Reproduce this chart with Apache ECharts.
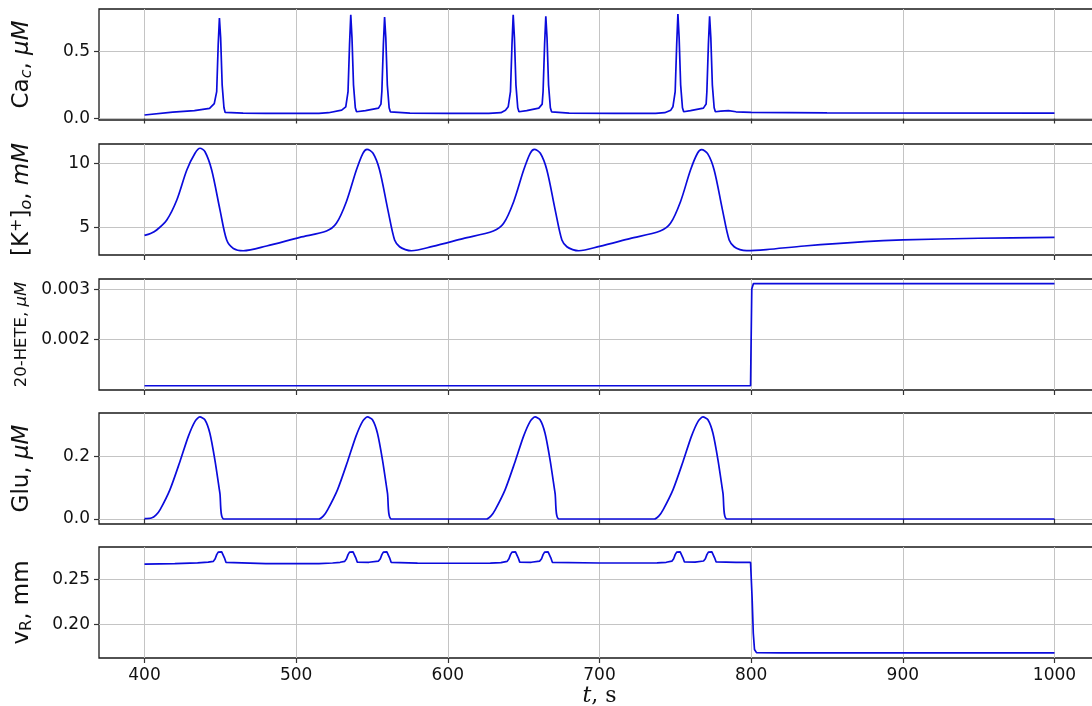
<!DOCTYPE html>
<html><head><meta charset="utf-8">
<script src="https://cdn.jsdelivr.net/npm/echarts@6/dist/echarts.min.js"></script>
<style>html,body{margin:0;padding:0;background:#fff}#c{width:1092px;height:706px}</style>
</head><body><div id="c"></div>
<script>
// ---- data ----
const xTicks = [400, 500, 600, 700, 800, 900, 1000];

const caTicks = [0, 0.5];
const kTicks = [5, 10];
const heteTicks = [0.002, 0.003];
const gluTicks = [0, 0.2];
const vrTicks = [0.2, 0.25];

// Ca_c (uM)
const caT = [400, 418.6, 432.9, 442.9, 446, 447.6, 448.6, 449.4, 450.2, 451.2, 452.4, 453.2, 465, 480, 515,
  521.4, 530, 532.7, 534.2, 535.2, 536, 536.8, 537.8, 539, 539.8,
  545.7, 554.3, 555.9, 556.5, 557.5, 558.3, 559.1, 560.1, 561.3, 562.1, 575, 600, 627,
  635, 638, 639.8, 641.3, 642.3, 643.1, 643.9, 644.9, 646.1, 646.9,
  652, 660, 662.2, 662.8, 663.8, 664.6, 665.4, 666.4, 667.6, 668.4, 680, 710, 737,
  743, 747, 748.4, 749.9, 750.9, 751.7, 752.5, 753.5, 754.7, 755.5,
  760, 768.5, 770.3, 770.8, 771.8, 772.6, 773.4, 774.4, 775.6, 776.4, 780, 785, 790, 800, 850, 1000];
const caV = [0.026, 0.048, 0.058, 0.075, 0.11, 0.2, 0.55, 0.746, 0.6, 0.25, 0.08, 0.045, 0.04, 0.038, 0.038,
  0.043, 0.062, 0.087, 0.2, 0.55, 0.77, 0.6, 0.25, 0.08, 0.05,
  0.058, 0.077, 0.107, 0.2, 0.55, 0.753, 0.6, 0.25, 0.08, 0.05, 0.04, 0.038, 0.038,
  0.043, 0.062, 0.087, 0.2, 0.55, 0.77, 0.6, 0.25, 0.08, 0.05,
  0.058, 0.077, 0.107, 0.2, 0.55, 0.758, 0.6, 0.25, 0.08, 0.05, 0.04, 0.038, 0.038,
  0.043, 0.062, 0.087, 0.2, 0.55, 0.775, 0.6, 0.25, 0.08, 0.05,
  0.058, 0.077, 0.107, 0.2, 0.55, 0.758, 0.6, 0.25, 0.08, 0.05, 0.055, 0.058, 0.05, 0.045, 0.042, 0.04];

// [K+]o (mM)
const kT = [400, 404, 408, 414.7, 421.3, 427.9, 433.3, 436.6, 439.9, 444.3, 449.8, 454.2, 458.6, 465.1, 480.5, 502.4, 520,
  526.5, 533.1, 539.7, 544, 546.7, 550.7, 555, 560.5, 564.9, 568.2, 572, 576, 590, 610, 630,
  636.8, 643.4, 650, 654.3, 657, 661, 665.3, 670.8, 675.2, 678.5, 682.3, 686.3, 700, 720, 740,
  746.8, 753.4, 760, 764.6, 767.3, 771.3, 775.6, 781.1, 785.5, 788.8, 792.6, 797, 810, 835, 875, 900, 950, 1000];
const kV = [4.40, 4.55, 4.82, 5.60, 7.15, 9.48, 10.78, 11.17, 10.90, 9.48, 6.37, 4.04, 3.39, 3.21, 3.58, 4.25, 4.74,
  5.34, 7.02, 9.48, 10.78, 11.09, 10.78, 9.48, 6.37, 4.04, 3.52, 3.30, 3.21, 3.55, 4.15, 4.74,
  5.34, 7.02, 9.48, 10.78, 11.09, 10.78, 9.48, 6.37, 4.04, 3.52, 3.30, 3.21, 3.55, 4.15, 4.74,
  5.34, 7.02, 9.48, 10.78, 11.06, 10.75, 9.48, 6.37, 4.04, 3.52, 3.30, 3.22, 3.30, 3.58, 3.92, 4.05, 4.18, 4.25];

// 20-HETE (uM)
const heteT = [400, 600, 799.6, 800.4, 801.5, 1000];
const heteV = [0.00109, 0.00109, 0.00109, 0.00300, 0.00311, 0.00311];

// Glu (uM)
const gluT = [400, 404.5, 407.5, 410.3, 416.8, 423.4, 428.9, 433.3, 436.5, 439.8, 443.1, 446.4, 449.7, 452.3,
  515, 518, 520.8, 527.3, 533.9, 539.4, 543.8, 547, 550.3, 553.6, 556.9, 560.2, 562.8,
  625.5, 628.5, 631.3, 637.8, 644.4, 649.9, 654.3, 657.5, 660.8, 664.1, 667.4, 670.7, 673.3,
  736.2, 739.2, 742, 748.5, 755.1, 760.6, 765, 768.2, 771.5, 774.8, 778.1, 781.4, 784, 1000];
const gluV = [0.001, 0.003, 0.012, 0.03, 0.094, 0.184, 0.264, 0.312, 0.326, 0.317, 0.274, 0.189, 0.083, 0.0,
  0.0, 0.010, 0.03, 0.094, 0.184, 0.264, 0.312, 0.326, 0.317, 0.274, 0.189, 0.083, 0.0,
  0.0, 0.010, 0.03, 0.094, 0.184, 0.264, 0.312, 0.326, 0.317, 0.274, 0.189, 0.083, 0.0,
  0.0, 0.010, 0.03, 0.094, 0.184, 0.264, 0.312, 0.326, 0.317, 0.274, 0.189, 0.083, 0.0, 0.0];

// v_R (mm)
const vrT = [400, 420, 435, 442, 445.4, 446.6, 447.6, 448.6, 450.9, 451.9, 452.7, 453.7, 454.9, 480, 515, 524, 529,
  532.0, 533.2, 534.2, 535.2, 537.5, 538.5, 539.3, 540.3, 541.5, 548,
  554.3, 555.5, 556.5, 557.5, 559.8, 560.8, 561.6, 562.6, 563.8, 580, 600, 628, 635,
  639.1, 640.3, 641.3, 642.3, 644.6, 645.6, 646.4, 647.4, 648.6, 655,
  660.6, 661.8, 662.8, 663.8, 666.1, 667.1, 667.9, 668.9, 670.1, 700, 738, 744,
  747.7, 748.9, 749.9, 750.9, 753.2, 754.2, 755.0, 756.0, 757.2, 763,
  768.6, 769.8, 770.8, 771.8, 774.1, 775.1, 775.9, 776.9, 778.1, 790, 799.6, 800.6, 801.4, 802.2, 803.5, 820, 1000];
const vrV = [0.2670, 0.2674, 0.2683, 0.2692, 0.2700, 0.2730, 0.2775, 0.2803, 0.2805, 0.2790, 0.2740, 0.2690, 0.2678, 0.2675, 0.2675, 0.2682, 0.2690,
  0.2700, 0.2730, 0.2775, 0.2803, 0.2805, 0.2790, 0.2740, 0.2692, 0.2686, 0.2690,
  0.2703, 0.2730, 0.2775, 0.2803, 0.2805, 0.2790, 0.2740, 0.2690, 0.2683, 0.2680, 0.2679, 0.2680, 0.2686,
  0.2700, 0.2730, 0.2775, 0.2803, 0.2805, 0.2790, 0.2740, 0.2692, 0.2686, 0.2690,
  0.2703, 0.2730, 0.2775, 0.2803, 0.2805, 0.2790, 0.2740, 0.2690, 0.2684, 0.2682, 0.2683, 0.2690,
  0.2702, 0.2730, 0.2775, 0.2803, 0.2805, 0.2790, 0.2740, 0.2694, 0.2688, 0.2692,
  0.2704, 0.2730, 0.2775, 0.2803, 0.2805, 0.2790, 0.2740, 0.2694, 0.2689, 0.2688, 0.2688, 0.2300, 0.1900, 0.1720, 0.1685, 0.1682, 0.1682];

// ---- chart ----
const FONT = 'DejaVu Sans';
const LINE = '#0b0bdc';
const zip = (t, v) => t.map((x, i) => [x, v[i]]);
const tops = [9, 144, 279, 413, 547];
const H = 111;

const baseRich = {
  r: {fontFamily: FONT, fontSize: 23, lineHeight: 26, color: '#111'},
  i: {fontFamily: FONT, fontSize: 23, lineHeight: 26, fontStyle: 'italic', color: '#111'},
  sub: {fontFamily: FONT, fontSize: 16, lineHeight: 12, verticalAlign: 'bottom', fontStyle: 'italic', color: '#111'},
  subr: {fontFamily: FONT, fontSize: 16, lineHeight: 12, verticalAlign: 'bottom', color: '#111'},
  sup: {fontFamily: FONT, fontSize: 16, lineHeight: 14, verticalAlign: 'top', color: '#111'},
  rs: {fontFamily: FONT, fontSize: 16.5, lineHeight: 26, color: '#111'},
  is: {fontFamily: FONT, fontSize: 16.5, lineHeight: 26, fontStyle: 'italic', color: '#111'}
};

const panels = [
  {t: caT, v: caV, min: -0.011, max: 0.8125, step: 0.5, ticks: caTicks, dec: 1, name: '{r|Ca}{sub|c}{r|, }{i|μM}', smooth: false},
  {t: kT, v: kV, min: 2.88, max: 11.5, step: 5, ticks: kTicks, dec: 0, name: '{r|[K}{sup|+}{r|]}{sub|o}{r|, }{i|mM}', smooth: 0.3},
  {t: heteT, v: heteV, min: 0.001006, max: 0.0032, step: 0.001, ticks: heteTicks, dec: 3, name: '{rs|20-HETE, }{is|μM}', smooth: false},
  {t: gluT, v: gluV, min: -0.016, max: 0.3387, step: 0.2, ticks: gluTicks, dec: 1, name: '{r|Glu, }{i|μM}', smooth: 0.25},
  {t: vrT, v: vrV, min: 0.1625, max: 0.286, step: 0.05, ticks: vrTicks, dec: 2, name: '{r|v}{subr|R}{r|, mm}', smooth: false}
];

const option = {
  animation: false,
  backgroundColor: '#fff',
  grid: panels.map((p, i) => ({
    left: 99, width: 1001, top: tops[i], height: H, show: true,
    outerBoundsMode: 'none', containLabel: false,
    borderColor: '#1a1a1a', borderWidth: 1.3, backgroundColor: 'transparent'
  })),
  xAxis: panels.map((p, i) => ({
    gridIndex: i, type: 'value', min: 370, max: 1030, minInterval: 100, maxInterval: 100,
    axisLine: {show: false},
    axisTick: {show: true, customValues: xTicks, length: 5, lineStyle: {color: '#333', width: 1.2}},
    axisLabel: {show: i === 4, customValues: xTicks, margin: 9, fontFamily: FONT, fontSize: 17, color: '#111',
      formatter: v => String(v)},
    splitLine: {show: true, lineStyle: {color: '#c4c4c4', width: 1}},
    name: i === 4 ? '{it|t}{n|, s}' : '',
    nameLocation: 'middle', nameGap: 20,
    nameTextStyle: {rich: {
      it: {fontFamily: 'DejaVu Serif', fontStyle: 'italic', fontSize: 22, color: '#111'},
      n: {fontFamily: 'DejaVu Serif', fontSize: 22, color: '#111'}
    }}
  })),
  yAxis: panels.map((p, i) => ({
    gridIndex: i, type: 'value', min: p.min, max: p.max, minInterval: p.step, maxInterval: p.step,
    axisLine: {show: false},
    axisTick: {show: true, customValues: p.ticks, length: 5, lineStyle: {color: '#333', width: 1.2}},
    axisLabel: {customValues: p.ticks, margin: 9, fontFamily: FONT, fontSize: 17, color: '#111',
      formatter: v => Number(v).toFixed(p.dec)},
    splitLine: {show: true, lineStyle: {color: '#c4c4c4', width: 1}},
    name: p.name, nameLocation: 'middle', nameGap: 64, nameRotate: 90,
    nameTextStyle: {rich: baseRich}
  })),
  series: panels.map((p, i) => ({
    type: 'line', xAxisIndex: i, yAxisIndex: i, data: zip(p.t, p.v),
    showSymbol: false, symbol: 'none', smooth: p.smooth,
    lineStyle: {color: LINE, width: 1.7}
  }))
};

const chart = echarts.init(document.getElementById('c'));
chart.setOption(option);
</script>
</body></html>
